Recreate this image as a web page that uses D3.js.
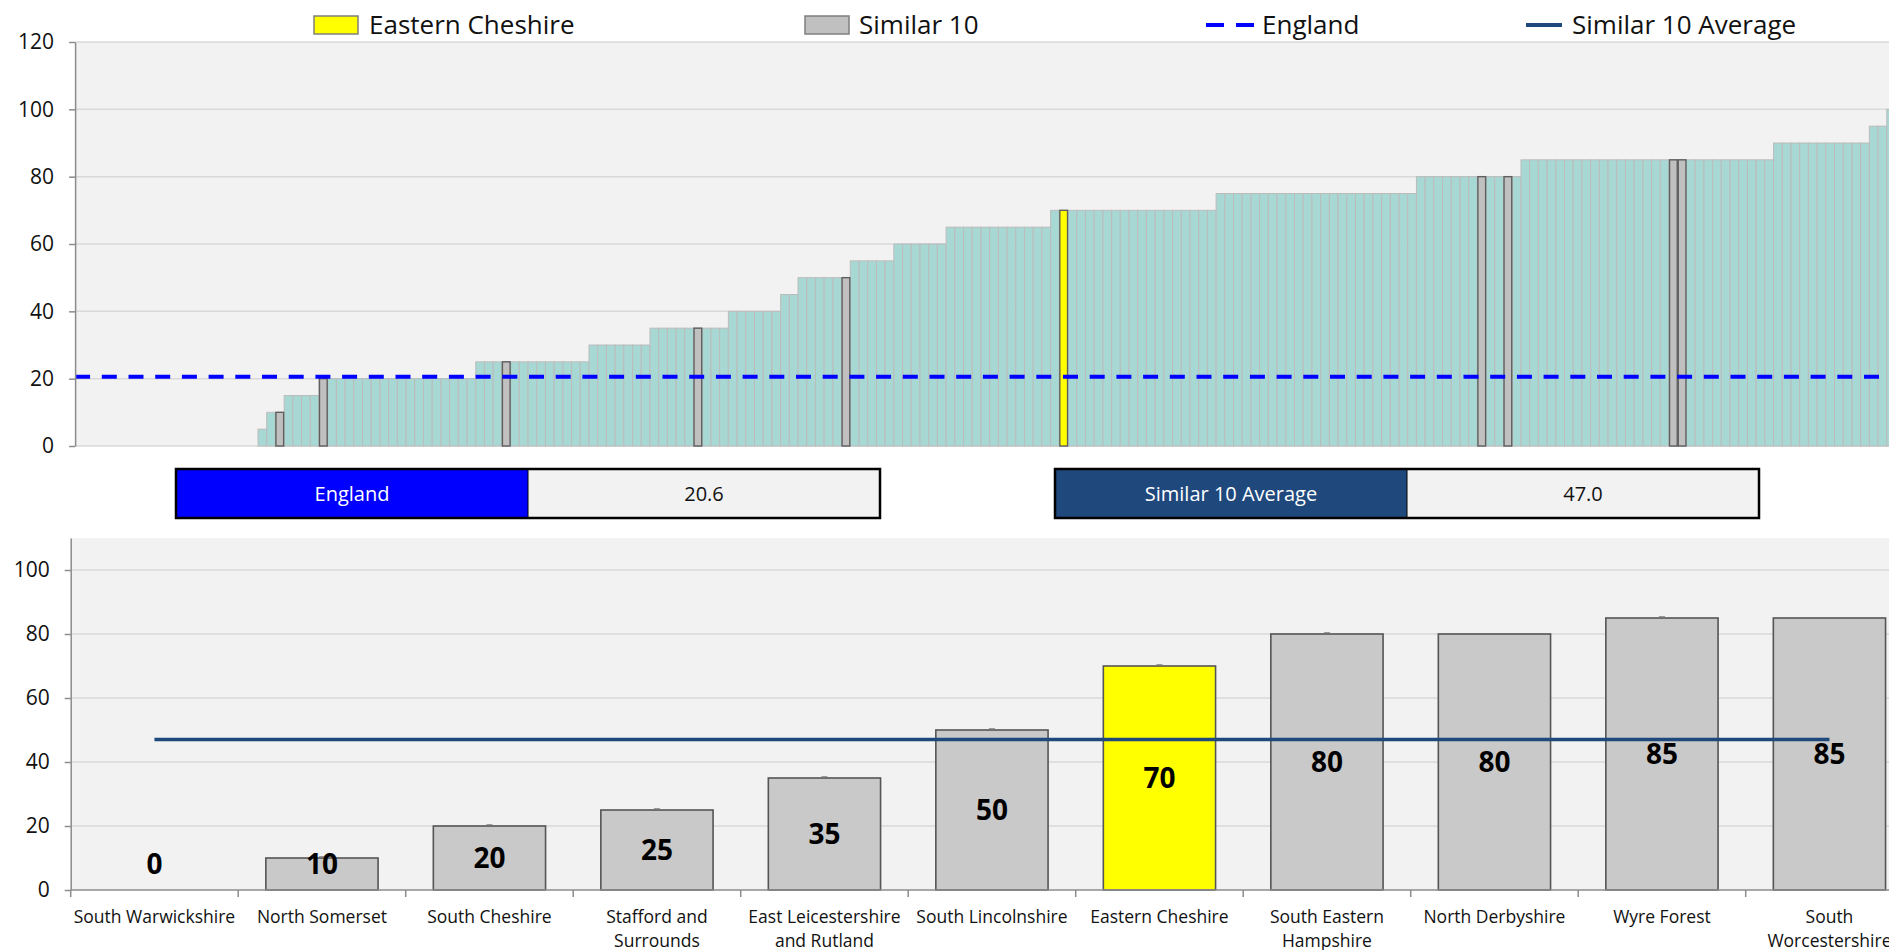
<!DOCTYPE html>
<html>
<head>
<meta charset="utf-8">
<script src="https://cdn.jsdelivr.net/npm/d3@7"></script>
<style>
  body { margin: 0; background: #fff; overflow: hidden; }
  svg { display: block; font-family: 'Open Sans', sans-serif; }
</style>
</head>
<body>
<div class="canvas"></div>
<script>
// every CCG in England, sorted
const ccgValues = [
  0, 0, 0, 0, 0, 0, 0, 0, 0, 0, 0, 0, 0, 0, 0, 0, 0, 0, 0, 0, 0,
  5,
  10, 10,
  15, 15, 15, 15,
  20, 20, 20, 20, 20, 20, 20, 20, 20, 20, 20, 20, 20, 20, 20, 20, 20, 20,
  25, 25, 25, 25, 25, 25, 25, 25, 25, 25, 25, 25, 25,
  30, 30, 30, 30, 30, 30, 30,
  35, 35, 35, 35, 35, 35, 35, 35, 35,
  40, 40, 40, 40, 40, 40,
  45, 45,
  50, 50, 50, 50, 50, 50,
  55, 55, 55, 55, 55,
  60, 60, 60, 60, 60, 60,
  65, 65, 65, 65, 65, 65, 65, 65, 65, 65, 65, 65,
  70, 70, 70, 70, 70, 70, 70, 70, 70, 70, 70, 70, 70, 70, 70, 70, 70, 70, 70,
  75, 75, 75, 75, 75, 75, 75, 75, 75, 75, 75, 75, 75, 75, 75, 75, 75, 75, 75, 75, 75, 75, 75,
  80, 80, 80, 80, 80, 80, 80, 80, 80, 80, 80, 80,
  85, 85, 85, 85, 85, 85, 85, 85, 85, 85, 85, 85, 85, 85, 85, 85, 85, 85, 85, 85, 85, 85, 85, 85, 85, 85, 85, 85, 85,
  90, 90, 90, 90, 90, 90, 90, 90, 90, 90, 90,
  95, 95,
  100
];

// the similar 10 (plus selected area)
const similarNames = ['South Warwickshire', 'North Somerset', 'South Cheshire', 'Stafford and Surrounds',
  'East Leicestershire and Rutland', 'South Lincolnshire', 'Eastern Cheshire', 'South Eastern Hampshire',
  'North Derbyshire', 'Wyre Forest', 'South Worcestershire'];
const similarValues = [0, 10, 20, 25, 35, 50, 70, 80, 80, 85, 85];
const similarRank = [20, 23, 28, 49, 71, 88, 113, 161, 164, 183, 184]; // position in ccgValues
const tickLabels = [['South Warwickshire'], ['North Somerset'], ['South Cheshire'], ['Stafford and', 'Surrounds'],
  ['East Leicestershire', 'and Rutland'], ['South Lincolnshire'], ['Eastern Cheshire'], ['South Eastern', 'Hampshire'],
  ['North Derbyshire'], ['Wyre Forest'], ['South', 'Worcestershire']];
const selectedArea = 'Eastern Cheshire';
const englandValue = 20.6;
const similarAverage = 47.0;
const topTicks = [0, 20, 40, 60, 80, 100, 120];
const bottomTicks = [0, 20, 40, 60, 80, 100];

const W = 1920, H = 950;
const teal = '#a7d8d3', grey = '#c0c0c0', navy = '#1f497d';

const svg = d3.select('.canvas').append('svg').attr('width', W).attr('height', H);

// ---------- top chart ----------
const tp = { left: 75.1, top: 42, bottom: 446, step: 8.71 };

const xTop = d3.scaleBand()
  .domain(d3.range(ccgValues.length))
  .range([tp.left, tp.left + ccgValues.length * tp.step])
  .padding(0);

const yTop = d3.scaleLinear().domain([0, 120]).range([tp.bottom, tp.top]);

const topG = svg.append('g');

topG.append('rect')
  .attr('x', tp.left).attr('y', tp.top)
  .attr('width', W - tp.left).attr('height', tp.bottom - tp.top)
  .attr('fill', '#f2f2f2');

topG.selectAll('line.grid')
  .data(topTicks)
  .enter()
  .append('line')
  .attr('class', 'grid')
  .attr('x1', tp.left).attr('x2', W)
  .attr('y1', (d) => yTop(d)).attr('y2', (d) => yTop(d))
  .attr('stroke', '#d9d9d9')
  .attr('stroke-width', 1.5);

topG.selectAll('rect.ccg')
  .data(ccgValues)
  .enter()
  .append('rect')
  .attr('class', 'ccg')
  .attr('x', (d, i) => xTop(i))
  .attr('y', (d) => yTop(d))
  .attr('width', xTop.bandwidth())
  .attr('height', (d) => tp.bottom - yTop(d))
  .attr('fill', teal)
  .attr('stroke', '#bcbcbc')
  .attr('stroke-width', 1);

// similar 10 highlighted in the ranking
topG.selectAll('rect.sim')
  .data(similarRank)
  .enter()
  .append('rect')
  .attr('class', 'sim')
  .attr('x', (d) => xTop(d) + 0.5)
  .attr('y', (d) => yTop(ccgValues[d]))
  .attr('width', xTop.bandwidth() - 1)
  .attr('height', (d) => tp.bottom - yTop(ccgValues[d]))
  .attr('fill', (d, i) => (similarNames[i] === selectedArea ? '#ffff00' : grey))
  .attr('stroke', '#5f5f5f')
  .attr('stroke-width', 1.4);

// england line
topG.append('line')
  .attr('x1', tp.left).attr('x2', W)
  .attr('y1', yTop(englandValue)).attr('y2', yTop(englandValue))
  .attr('stroke', '#0000ff')
  .attr('stroke-width', 4)
  .attr('stroke-dasharray', '15,11.7');

const yAxisTop = topG.append('g')
  .attr('transform', `translate(${tp.left},0)`)
  .call(d3.axisLeft(yTop).tickValues(topTicks).tickSize(6).tickPadding(15).tickSizeOuter(0));

const styleAxis = (g, size) => {
  g.select('.domain').attr('stroke', '#8c8c8c').attr('stroke-width', 1.5);
  g.selectAll('.tick line').attr('stroke', '#8c8c8c').attr('stroke-width', 1.5);
  g.selectAll('.tick text')
    .attr('fill', '#111')
    .style('font-size', size + 'px')
    .style('font-family', "'Open Sans', sans-serif");
};
styleAxis(yAxisTop, 21);

// legend
const legend = svg.append('g');
const legendY = 25;
legend.append('rect').attr('x', 314).attr('y', 16).attr('width', 44).attr('height', 18)
  .attr('fill', '#ffff00').attr('stroke', '#7f7f7f').attr('stroke-width', 1.5);
legend.append('rect').attr('x', 805).attr('y', 16).attr('width', 44).attr('height', 18)
  .attr('fill', grey).attr('stroke', '#7f7f7f').attr('stroke-width', 1.5);
legend.append('line').attr('x1', 1206).attr('x2', 1254).attr('y1', legendY).attr('y2', legendY)
  .attr('stroke', '#0000ff').attr('stroke-width', 4).attr('stroke-dasharray', '18,12');
legend.append('line').attr('x1', 1526).attr('x2', 1562).attr('y1', legendY).attr('y2', legendY)
  .attr('stroke', navy).attr('stroke-width', 4);

const legendItems = [
  { label: selectedArea, x: 369 },
  { label: 'Similar 10', x: 859 },
  { label: 'England', x: 1262 },
  { label: 'Similar 10 Average', x: 1572 }
];
legend.selectAll('text')
  .data(legendItems)
  .enter()
  .append('text')
  .attr('x', (d) => d.x)
  .attr('y', legendY)
  .attr('dy', '0.36em')
  .style('font-size', '26px')
  .attr('fill', '#111')
  .text((d) => d.label);

// ---------- value boxes ----------
const boxes = [
  { label: 'England', value: englandValue, x: 176, fill: '#0000ff' },
  { label: 'Similar 10 Average', value: similarAverage, x: 1055, fill: navy }
];
const boxW = 352, boxY = 469, boxH = 49;
const boxG = svg.selectAll('g.box')
  .data(boxes)
  .enter()
  .append('g')
  .attr('class', 'box')
  .attr('transform', (d) => `translate(${d.x},${boxY})`);

boxG.append('rect').attr('width', boxW).attr('height', boxH).attr('fill', (d) => d.fill);
boxG.append('rect').attr('x', boxW).attr('width', boxW).attr('height', boxH).attr('fill', '#f2f2f2');
boxG.append('rect').attr('width', boxW * 2).attr('height', boxH)
  .attr('fill', 'none').attr('stroke', '#000').attr('stroke-width', 2.5);
boxG.append('line').attr('x1', boxW).attr('x2', boxW).attr('y1', 0).attr('y2', boxH)
  .attr('stroke', '#000').attr('stroke-width', 1);
boxG.append('text')
  .attr('x', boxW / 2).attr('y', boxH / 2).attr('dy', '0.35em')
  .attr('text-anchor', 'middle').attr('fill', '#fff')
  .style('font-size', '20px')
  .text((d) => d.label);
boxG.append('text')
  .attr('x', boxW * 1.5).attr('y', boxH / 2).attr('dy', '0.35em')
  .attr('text-anchor', 'middle').attr('fill', '#111')
  .style('font-size', '20px')
  .text((d) => d.value.toFixed(1));

// ---------- bottom chart ----------
const bp = { left: 70.7, top: 538, bottom: 890, step: 167.5 };

const xCat = d3.scaleBand()
  .domain(similarNames)
  .range([bp.left, bp.left + similarNames.length * bp.step])
  .paddingInner(0.33)
  .paddingOuter(0.165);

const xTick = d3.scaleBand()
  .domain(similarNames)
  .range([bp.left, bp.left + similarNames.length * bp.step])
  .padding(0);

const yBot = d3.scaleLinear().domain([0, 110]).range([bp.bottom, bp.top]);

const botG = svg.append('g');

botG.append('rect')
  .attr('x', bp.left).attr('y', bp.top)
  .attr('width', W - bp.left).attr('height', bp.bottom - bp.top)
  .attr('fill', '#f2f2f2');

botG.selectAll('line.grid')
  .data(bottomTicks.slice(1))
  .enter()
  .append('line')
  .attr('class', 'grid')
  .attr('x1', bp.left).attr('x2', W)
  .attr('y1', (d) => yBot(d)).attr('y2', (d) => yBot(d))
  .attr('stroke', '#d9d9d9')
  .attr('stroke-width', 1.5);

botG.selectAll('rect.bar')
  .data(similarValues)
  .enter()
  .append('rect')
  .attr('class', 'bar')
  .attr('x', (d, i) => xCat(similarNames[i]))
  .attr('y', (d) => yBot(d))
  .attr('width', xCat.bandwidth())
  .attr('height', (d) => bp.bottom - yBot(d))
  .attr('fill', (d, i) => (similarNames[i] === selectedArea ? '#ffff00' : '#c9c9c9'))
  .attr('stroke', '#555')
  .attr('stroke-width', 1.6);

// tiny CI caps on top of bars
botG.selectAll('line.ci')
  .data(similarValues.filter((d) => d > 0))
  .enter()
  .append('line')
  .attr('class', 'ci')
  .attr('x1', (d) => xCat(similarNames[similarValues.indexOf(d)]) + xCat.bandwidth() / 2 - 3)
  .attr('x2', (d) => xCat(similarNames[similarValues.indexOf(d)]) + xCat.bandwidth() / 2 + 3)
  .attr('y1', (d) => yBot(d) - 1.5).attr('y2', (d) => yBot(d) - 1.5)
  .attr('stroke', '#999').attr('stroke-width', 1);

// x axis line + boundary ticks
botG.append('line')
  .attr('x1', bp.left).attr('x2', W)
  .attr('y1', bp.bottom).attr('y2', bp.bottom)
  .attr('stroke', '#8c8c8c').attr('stroke-width', 1.5);

botG.selectAll('line.xtick')
  .data(similarNames)
  .enter()
  .append('line')
  .attr('class', 'xtick')
  .attr('x1', (d) => xTick(d)).attr('x2', (d) => xTick(d))
  .attr('y1', bp.bottom).attr('y2', bp.bottom + 7)
  .attr('stroke', '#8c8c8c').attr('stroke-width', 1.5);

// similar 10 average
botG.append('line')
  .attr('x1', xCat(similarNames[0]) + xCat.bandwidth() / 2)
  .attr('x2', xCat(similarNames[similarNames.length - 1]) + xCat.bandwidth() / 2)
  .attr('y1', yBot(similarAverage)).attr('y2', yBot(similarAverage))
  .attr('stroke', navy)
  .attr('stroke-width', 3.5);

// value labels
botG.selectAll('text.val')
  .data(similarValues)
  .enter()
  .append('text')
  .attr('class', 'val')
  .attr('x', (d, i) => xCat(similarNames[i]) + xCat.bandwidth() / 2)
  .attr('y', (d) => yBot(Math.max(d / 2, 8.2)))
  .attr('dy', '0.36em')
  .attr('text-anchor', 'middle')
  .attr('fill', '#000')
  .style('font-size', '28px')
  .style('font-weight', 'bold')
  .text((d) => d);

// category labels
const catText = botG.selectAll('text.cat')
  .data(similarNames)
  .enter()
  .append('text')
  .attr('class', 'cat')
  .attr('x', (d) => xTick(d) + xTick.bandwidth() / 2)
  .attr('y', bp.bottom + 27)
  .attr('text-anchor', 'middle')
  .attr('fill', '#111')
  .style('font-size', '17.5px');

catText.selectAll('tspan')
  .data((d, i) => tickLabels[i])
  .enter()
  .append('tspan')
  .attr('x', function () { return d3.select(this.parentNode).attr('x'); })
  .attr('dy', (d, i) => (i === 0 ? '0.35em' : '24px'))
  .text((d) => d);

const yAxisBot = botG.append('g')
  .attr('transform', `translate(${bp.left},0)`)
  .call(d3.axisLeft(yBot).tickValues(bottomTicks).tickSize(6).tickPadding(15).tickSizeOuter(0));
styleAxis(yAxisBot, 21);
</script>
</body>
</html>
